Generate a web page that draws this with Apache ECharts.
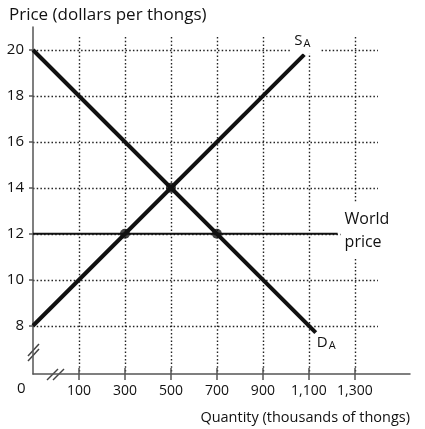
<!DOCTYPE html>
<html>
<head>
<meta charset="utf-8">
<script src="https://cdn.jsdelivr.net/npm/echarts@6/dist/echarts.min.js"></script>
<style>
  html, body { margin: 0; padding: 0; background: #fff; }
  #chart { width: 425px; height: 429px; }
</style>
</head>
<body>
<div id="chart"></div>
<script>
// data (x axis is broken: its left end sits at -100, shown as "0")
const supplyQ = [-100, 1080];
const supplyP = [8, 19.8];
const demandQ = [-100, 1130];
const demandP = [20, 7.7];
const worldQ = [-100, 1225];
const worldP = [12, 12];
const pointQ = [300, 500, 700];
const pointP = [12, 14, 12];
const xTicks = [100, 300, 500, 700, 900, 1100, 1300];
const yTicks = [8, 10, 12, 14, 16, 18, 20];

const pairs = (xs, ys) => xs.map((x, i) => [x, ys[i]]);
const comma = v => String(v).replace(/\B(?=(\d{3})+(?!\d))/g, ',');
const font = 'Open Sans';
const ink = '#111';
const dots = { color: '#222', type: [1.5, 2.2], width: 1.4 };

const chart = echarts.init(document.getElementById('chart'));

const option = {
  animation: false,
  backgroundColor: '#fff',
  textStyle: { fontFamily: font, color: ink },
  title: [
    { text: 'Price (dollars per thongs)', left: 4, top: 2,
      textStyle: { fontFamily: font, fontSize: 17, fontWeight: 'normal', color: ink } },
    { text: 'Quantity (thousands of thongs)', right: 10, top: 405,
      textStyle: { fontFamily: font, fontSize: 14.5, fontWeight: 'normal', color: ink } }
  ],
  grid: [
    // axes + data
    { left: 33, right: 15, top: 27, bottom: 55 },
    // vertical dotted lines
    { left: 33, right: 47, top: 37, bottom: 55 },
    // horizontal dotted lines
    { left: 33, right: 47, top: 50, bottom: 103 }
  ],
  xAxis: [
    {
      gridIndex: 0, type: 'value', min: -100, max: 1540,
      axisLine: { show: true, onZero: false, lineStyle: { color: '#555', width: 1.5 } },
      axisTick: { show: true, customValues: xTicks, length: 6, lineStyle: { color: '#555', width: 1.5 } },
      axisLabel: { show: true, customValues: xTicks, formatter: comma, margin: 10,
        fontFamily: font, fontSize: 14, color: ink },
      splitLine: { show: false }
    },
    {
      gridIndex: 1, type: 'value', min: -100, max: 1400,
      axisLine: { show: false, onZero: false },
      axisTick: { show: true, customValues: xTicks, inside: true, length: 6, lineStyle: { color: '#555', width: 1.5 } },
      axisLabel: { show: false },
      splitLine: { show: true, lineStyle: dots }
    },
    { gridIndex: 2, type: 'value', min: 0, max: 1, show: false }
  ],
  yAxis: [
    {
      gridIndex: 0, type: 'value', min: 5.9, max: 21,
      axisLine: { show: true, onZero: false, lineStyle: { color: '#555', width: 1.5 } },
      axisTick: { show: false },
      axisLabel: { show: false },
      splitLine: { show: false }
    },
    { gridIndex: 1, type: 'value', min: 0, max: 1, show: false },
    {
      gridIndex: 2, type: 'value', min: 8, max: 20,
      axisLine: { show: false, onZero: false },
      axisTick: { show: true, customValues: yTicks, length: 4, lineStyle: { color: '#555', width: 1.5 } },
      axisLabel: { show: true, customValues: yTicks, margin: 9, fontFamily: font, fontSize: 15, color: ink },
      splitLine: { show: true, lineStyle: dots }
    }
  ],
  series: [
    {
      name: 'World price', type: 'line', data: pairs(worldQ, worldP),
      symbol: 'none', lineStyle: { color: ink, width: 2 },
      endLabel: { show: true, formatter: 'World\nprice', distance: 3, offset: [0, -3],
        backgroundColor: '#fff', padding: [4, 6, 6, 4],
        fontFamily: font, fontSize: 16, lineHeight: 23, color: ink }
    },
    {
      name: 'Supply', type: 'line', data: pairs(supplyQ, supplyP),
      symbol: 'none', lineStyle: { color: ink, width: 4 },
      endLabel: { show: true, formatter: '{s|S}{a|A}', offset: [-22, -14],
        backgroundColor: '#fff', padding: [4, 10, 4, 4],
        rich: {
          s: { fontFamily: font, fontSize: 15, color: ink },
          a: { fontFamily: font, fontSize: 11, color: ink, padding: [7, 0, 0, 1] }
        } }
    },
    {
      name: 'Demand', type: 'line', data: pairs(demandQ, demandP),
      symbol: 'none', lineStyle: { color: ink, width: 4 },
      endLabel: { show: true, formatter: '{s|D}{a|A}', offset: [-7, 10],
        rich: {
          s: { fontFamily: font, fontSize: 15, color: ink },
          a: { fontFamily: font, fontSize: 11, color: ink, padding: [7, 0, 0, 1] }
        } }
    },
    {
      name: 'Points', type: 'scatter', data: pairs(pointQ, pointP),
      symbolSize: 10, itemStyle: { color: ink }, z: 5
    }
  ],
  graphic: [
    { type: 'text', left: 17, top: 381,
      style: { text: '0', fontFamily: font, fontSize: 15, fill: ink } },
    // axis break marks
    { type: 'line', shape: { x1: 28, y1: 361, x2: 39, y2: 349 }, style: { stroke: '#444', lineWidth: 1.5 } },
    { type: 'line', shape: { x1: 28, y1: 356, x2: 39, y2: 344 }, style: { stroke: '#444', lineWidth: 1.5 } },
    { type: 'line', shape: { x1: 47, y1: 380, x2: 58, y2: 369 }, style: { stroke: '#444', lineWidth: 1.5 } },
    { type: 'line', shape: { x1: 53, y1: 380, x2: 64, y2: 369 }, style: { stroke: '#444', lineWidth: 1.5 } }
  ]
};

chart.setOption(option);
</script>
</body>
</html>
